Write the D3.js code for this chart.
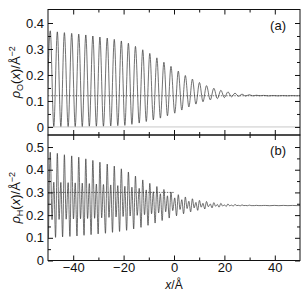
<!DOCTYPE html>
<html lang="en">
<head>
<meta charset="UTF-8">
<script src="https://d3js.org/d3.v7.min.js"></script>
<style>
  body { margin: 0; background: #fff; }
  svg { display: block; font-family: "Liberation Sans", Arial, Helvetica, sans-serif; }
  .tick text { font-size: 13px; fill: #111; }
  .tick line { stroke: #111; }
</style>
</head>
<body>
<div id="container"></div>
<script>
// x ticks
var xMajor = [-40, -20, 0, 20, 40];
var xMinor = [-30, -10, 10, 30];

// panel (a): rho_O, extrema
var oPeakX = [-49.1, -46.3, -43.5, -40.6, -37.8, -35.0, -32.2, -29.4, -26.5, -23.7, -20.9, -18.1, -15.3, -12.4, -9.6, -6.8, -4.0, -1.2, 1.7, 4.5, 7.3, 10.1, 12.9, 15.8, 18.6, 21.4, 24.2, 27.0, 29.9, 32.7, 35.5];
var oPeakY = [0.370, 0.366, 0.363, 0.360, 0.357, 0.354, 0.350, 0.346, 0.342, 0.337, 0.331, 0.322, 0.310, 0.297, 0.283, 0.266, 0.249, 0.233, 0.215, 0.198, 0.184, 0.171, 0.159, 0.149, 0.141, 0.135, 0.130, 0.126, 0.124, 0.122, 0.1215];
var oDipX = [-50.5, -47.7, -44.9, -42.0, -39.2, -36.4, -33.6, -30.8, -28.0, -25.1, -22.3, -19.5, -16.7, -13.8, -11.0, -8.2, -5.4, -2.6, 0.3, 3.1, 5.9, 8.7, 11.5, 14.4, 17.2, 20.0, 22.8, 25.6, 28.4, 31.3, 34.1];
var oDipY = [0.000, 0.002, 0.002, 0.002, 0.002, 0.002, 0.003, 0.003, 0.003, 0.004, 0.005, 0.006, 0.010, 0.015, 0.021, 0.027, 0.034, 0.043, 0.053, 0.065, 0.077, 0.088, 0.097, 0.104, 0.109, 0.113, 0.116, 0.118, 0.119, 0.1195, 0.120];
var oTailX = [37.5, 39.4, 41.2, 43.1, 45.0, 46.8, 48.7, 50.5];
var oTailY = [0.1195, 0.1208, 0.1196, 0.1206, 0.1198, 0.1205, 0.1199, 0.1203];
var oRef = 0.12, oRefEnd = 50;

// panel (b): rho_H
var hTallX = oPeakX;
var hTallY = [0.477, 0.472, 0.466, 0.461, 0.455, 0.448, 0.441, 0.433, 0.425, 0.416, 0.404, 0.390, 0.372, 0.355, 0.340, 0.326, 0.313, 0.302, 0.290, 0.280, 0.272, 0.265, 0.260, 0.255, 0.252, 0.249, 0.247, 0.245, 0.244, 0.243, 0.2425];
var hShortX = oDipX.slice(1);
var hShortY = [0.345, 0.344, 0.343, 0.342, 0.341, 0.339, 0.337, 0.335, 0.333, 0.330, 0.327, 0.323, 0.318, 0.311, 0.303, 0.294, 0.285, 0.276, 0.268, 0.261, 0.256, 0.252, 0.249, 0.247, 0.245, 0.244, 0.243, 0.2425, 0.242, 0.242];
var hLowX = [-49.8, -47.0, -44.2, -41.3, -38.5, -35.7, -32.9, -30.1, -27.2, -24.4, -21.6, -18.8, -16.0, -13.1, -10.3, -7.5, -4.7, -1.9, 1.0, 3.8, 6.6, 9.4, 12.2, 15.1, 17.9, 20.7, 23.5, 26.3, 29.2, 32.0, 34.8];
var hLowY = [0.100, 0.102, 0.104, 0.106, 0.108, 0.111, 0.114, 0.117, 0.120, 0.124, 0.128, 0.133, 0.139, 0.146, 0.155, 0.165, 0.176, 0.187, 0.197, 0.206, 0.214, 0.221, 0.227, 0.232, 0.235, 0.238, 0.240, 0.241, 0.2415, 0.242, 0.242];
var hMidX = [-48.4, -45.6, -42.8, -39.9, -37.1, -34.3, -31.5, -28.7, -25.8, -23.0, -20.2, -17.4, -14.6, -11.7, -8.9, -6.1, -3.3, -0.5, 2.4, 5.2, 8.0, 10.8, 13.6, 16.5, 19.3, 22.1, 24.9, 27.7, 30.6, 33.4];
var hMidY = [0.180, 0.181, 0.182, 0.183, 0.184, 0.185, 0.186, 0.188, 0.190, 0.192, 0.194, 0.196, 0.199, 0.202, 0.206, 0.210, 0.215, 0.220, 0.225, 0.229, 0.232, 0.235, 0.237, 0.239, 0.240, 0.241, 0.242, 0.242, 0.242, 0.242];
var hTailX = [36.3, 38.0, 39.8, 41.6, 43.4, 45.2, 47.0, 48.8, 50.5];
var hTailY = [0.2425, 0.2415, 0.2428, 0.2416, 0.2427, 0.2418, 0.2426, 0.2419, 0.2424];
var hRef = 0.3, hRefEnd = 0;

function merge(list) {
  var out = [];
  list.forEach(function(p) { p[0].forEach(function(v, i) { out.push([v, p[1][i]]); }); });
  return out.sort(function(a, b) { return a[0] - b[0]; });
}
var dataO = merge([[oPeakX, oPeakY], [oDipX, oDipY], [oTailX, oTailY]]);
var dataH = merge([[hTallX, hTallY], [hShortX, hShortY], [hLowX, hLowY], [hMidX, hMidY], [hTailX, hTailY]]);

var width = 308, height = 296;
var L = 48, R = 300;

var svg = d3.select('#container').append('svg')
  .attr('width', width).attr('height', height);

var x = d3.scaleLinear().domain([-50, 50]).range([L, R]);

var panels = [
  { top: 9.5, bottom: 135, y: d3.scaleLinear().domain([-0.031, 0.452]).range([135, 9.5]),
    major: [0, 0.1, 0.2, 0.3, 0.4], minor: [0.05, 0.15, 0.25, 0.35],
    data: dataO, ref: oRef, refEnd: oRefEnd, zero: true, tag: '(a)', sub: 'O', xlabels: false },
  { top: 135, bottom: 260.5, y: d3.scaleLinear().domain([0, 0.553]).range([260.5, 135]),
    major: [0, 0.1, 0.2, 0.3, 0.4, 0.5], minor: [0.05, 0.15, 0.25, 0.35, 0.45],
    data: dataH, ref: hRef, refEnd: hRefEnd, zero: false, tag: '(b)', sub: 'H', xlabels: true }
];

var fmtY = function(d) { return d === 0 ? '0' : d3.format('.1f')(d); };
var fmtX = function(d) { return d < 0 ? '\u2212' + Math.abs(d) : String(d); };

panels.forEach(function(p, i) {
  var g = svg.append('g');
  var y = p.y;

  g.append('clipPath').attr('id', 'clip' + i)
    .append('rect').attr('x', L).attr('y', p.top).attr('width', R - L).attr('height', p.bottom - p.top);

  if (p.zero) {
    g.append('line').attr('x1', L).attr('x2', R).attr('y1', y(0)).attr('y2', y(0))
      .attr('stroke', '#c8c8c8').attr('stroke-width', 1);
  }
  g.append('line').attr('x1', L).attr('x2', x(p.refEnd)).attr('y1', y(p.ref)).attr('y2', y(p.ref))
    .attr('stroke', '#333').attr('stroke-width', 0.7).attr('stroke-dasharray', '1.5,1.2');

  var line = d3.line().x(function(d) { return x(d[0]); }).y(function(d) { return y(d[1]); })
    .curve(d3.curveMonotoneX);
  g.append('path').datum(p.data)
    .attr('clip-path', 'url(#clip' + i + ')')
    .attr('d', line).attr('fill', 'none').attr('stroke', '#333').attr('stroke-width', 0.7);

  // axes, ticks inward
  g.append('g').attr('transform', 'translate(' + L + ',0)')
    .call(d3.axisLeft(y).tickValues(p.major).tickSize(-5).tickPadding(4).tickFormat(fmtY));
  g.append('g').attr('transform', 'translate(' + L + ',0)')
    .call(d3.axisLeft(y).tickValues(p.minor).tickSize(-3).tickFormat(''));
  g.append('g').attr('transform', 'translate(' + R + ',0)')
    .call(d3.axisRight(y).tickValues(p.major).tickSize(-5).tickFormat(''));
  g.append('g').attr('transform', 'translate(' + R + ',0)')
    .call(d3.axisRight(y).tickValues(p.minor).tickSize(-3).tickFormat(''));
  g.append('g').attr('transform', 'translate(0,' + p.top + ')')
    .call(d3.axisTop(x).tickValues(xMajor).tickSize(-5).tickFormat(''));
  g.append('g').attr('transform', 'translate(0,' + p.top + ')')
    .call(d3.axisTop(x).tickValues(xMinor).tickSize(-3).tickFormat(''));
  g.append('g').attr('transform', 'translate(0,' + p.bottom + ')')
    .call(d3.axisBottom(x).tickValues(xMajor).tickSize(-5).tickPadding(2)
      .tickFormat(p.xlabels ? fmtX : ''));
  g.append('g').attr('transform', 'translate(0,' + p.bottom + ')')
    .call(d3.axisBottom(x).tickValues(xMinor).tickSize(-3).tickFormat(''));
  g.selectAll('.domain').remove();

  g.append('rect').attr('x', L).attr('y', p.top).attr('width', R - L).attr('height', p.bottom - p.top)
    .attr('fill', 'none').attr('stroke', '#111').attr('stroke-width', 1);

  g.append('text').attr('x', 286).attr('y', p.top + 20).attr('text-anchor', 'end')
    .attr('font-size', 13).attr('fill', '#111').text(p.tag);

  // y label
  var cy = (p.top + p.bottom) / 2;
  var t = g.append('text').attr('transform', 'translate(20,' + cy + ') rotate(-90)')
    .attr('text-anchor', 'middle').attr('font-size', 13).attr('fill', '#111');
  t.append('tspan').attr('font-style', 'italic').text('\u03c1');
  t.append('tspan').attr('font-size', 9).attr('dy', 3).text(p.sub);
  t.append('tspan').attr('dy', -3).text('(');
  t.append('tspan').attr('font-style', 'italic').text('x');
  t.append('tspan').text(')/\u00c5');
  t.append('tspan').attr('font-size', 9).attr('dy', -5).text('\u22122');
});

// x label
var xl = svg.append('text').attr('x', x(0)).attr('y', 289).attr('text-anchor', 'middle')
  .attr('font-size', 12).attr('fill', '#111');
xl.append('tspan').attr('font-style', 'italic').text('x');
xl.append('tspan').text('/\u00c5');
</script>
</body>
</html>
